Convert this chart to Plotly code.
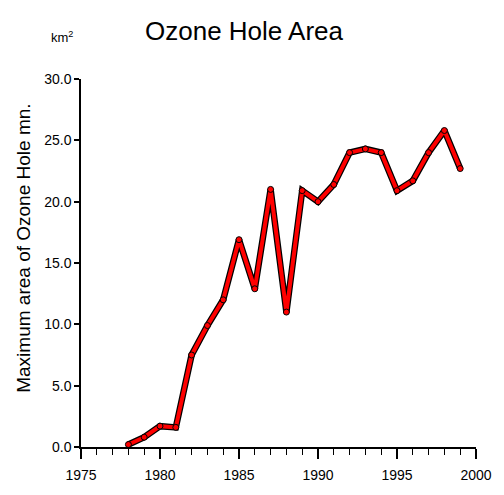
import plotly.graph_objects as go

years = [1978, 1979, 1980, 1981, 1982, 1983, 1984, 1985, 1986, 1987, 1988,
         1989, 1990, 1991, 1992, 1993, 1994, 1995, 1996, 1997, 1998, 1999]
area = [0.2, 0.8, 1.7, 1.6, 7.5, 9.9, 12.0, 16.9, 12.9, 21.0, 11.0,
        20.9, 20.0, 21.4, 24.0, 24.3, 24.0, 20.9, 21.7, 24.0, 25.8, 22.7]
x_ticks = [1975, 1980, 1985, 1990, 1995, 2000]
y_ticks = [0, 5, 10, 15, 20, 25, 30]

FONT = "Liberation Sans, Arial, sans-serif"

W, H = 504, 495
L, R, T, B = 81, 16, 79, 48
pw = W - L - R
ph = H - T - B


def px(x):
    return (x - L) / pw


def py(y):
    return 1 - (y - T) / ph


fig = go.Figure()
# dark outline under the red line
fig.add_trace(go.Scatter(x=years, y=area, mode="lines",
                         line=dict(color="black", width=6.5),
                         hoverinfo="skip", showlegend=False))
fig.add_trace(go.Scatter(x=years, y=area, mode="lines+markers",
                         line=dict(color="#ff0000", width=4),
                         marker=dict(color="#ff0000", size=6,
                                     line=dict(color="black", width=1)),
                         showlegend=False))

fig.update_layout(
    width=W, height=H,
    margin=dict(l=L, r=R, t=T, b=B),
    paper_bgcolor="white", plot_bgcolor="white",
    showlegend=False,
    annotations=[
        dict(text="Ozone Hole Area", x=px(249), y=py(31), xref="paper",
             yref="paper", xanchor="center", yanchor="middle",
             showarrow=False, font=dict(family=FONT, size=26, color="black")),
        dict(text="km<sup>2</sup>", x=px(61), y=py(37), xref="paper",
             yref="paper", xanchor="center", yanchor="middle",
             showarrow=False, font=dict(family=FONT, size=13, color="black")),
        dict(text="Maximum area of Ozone Hole mn.", x=px(21), y=py(248),
             xref="paper", yref="paper", xanchor="center", yanchor="middle",
             showarrow=False, textangle=-90,
             font=dict(family=FONT, size=19, color="black")),
    ],
)

fig.update_xaxes(
    range=[1974.999, 2000.001], tickvals=x_ticks,
    ticktext=[str(v) for v in x_ticks],
    showgrid=False, zeroline=False, showline=True, linecolor="black",
    linewidth=1.5, ticks="outside", ticklen=10, tickwidth=1.5,
    tickcolor="black", ticklabelstandoff=4,
    tickfont=dict(family=FONT, size=14, color="black"),
    minor=dict(dtick=1, tick0=1975, ticks="outside", ticklen=6,
               tickcolor="black", tickwidth=1, showgrid=False),
)
fig.update_yaxes(
    range=[0, 30.001], tickvals=y_ticks, ticktext=[f"{v:.1f}" for v in y_ticks],
    showgrid=False, zeroline=False, showline=True, linecolor="black",
    linewidth=1.5, ticks="outside", ticklen=5, tickwidth=1.5,
    tickcolor="black",
    tickfont=dict(family=FONT, size=14, color="black"),
)

fig.write_html(
    "out.html",
    config={"displayModeBar": False},
    post_script="document.body.style.margin='0';"
                "document.documentElement.style.overflow='hidden';",
)
